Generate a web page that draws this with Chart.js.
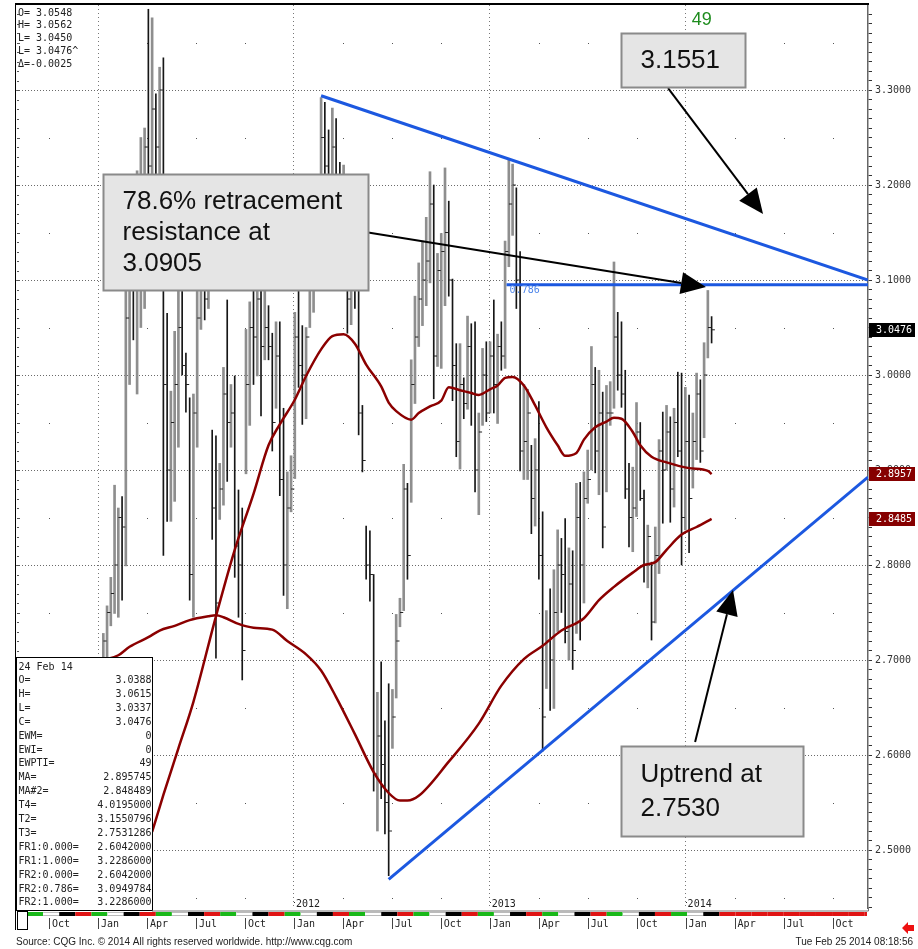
<!DOCTYPE html>
<html>
<head>
<meta charset="utf-8">
<title>Weekly bars with trend lines</title>
<script src="https://cdn.jsdelivr.net/npm/chart.js@4.4.1/dist/chart.umd.min.js"></script>
<style>
  html, body { margin: 0; padding: 0; background: #fff; }
  #wrap { position: relative; width: 918px; height: 949px; }
</style>
</head>
<body>
<div id="wrap"><canvas id="chart" width="918" height="949"></canvas></div>
<script>
/* -------------------------------------------------------
   DATA  (weekly bars, 10 Jan 2011 .. 24 Feb 2014)
------------------------------------------------------- */

const highs = [
  2.728, 2.757, 2.787, 2.884, 2.860, 2.872, 3.130, 3.170, 3.200, 3.215,
  3.250, 3.260, 3.385, 3.376, 3.296, 3.324, 3.334, 3.065, 2.983, 3.046,
  3.120, 3.150, 3.023, 2.976, 2.980, 3.130, 3.150, 3.170, 3.160, 2.942,
  2.936, 2.907, 3.008, 3.079, 2.990, 2.999, 2.879, 2.860, 3.048, 3.077,
  3.120, 3.120, 3.150, 3.130, 3.073, 3.044, 3.056, 3.056, 2.965, 2.898,
  2.915, 3.066, 3.120, 3.052, 3.050, 3.150, 3.170, 3.200, 3.292, 3.287,
  3.258, 3.281, 3.270, 3.224, 3.221, 3.200, 3.180, 3.150, 3.120, 2.968,
  2.841, 2.836, 2.790, 2.666, 2.698, 2.636, 2.675, 2.669, 2.748, 2.765,
  2.906, 2.886, 3.016, 3.083, 3.118, 3.141, 3.166, 3.214, 3.200, 3.128,
  3.149, 3.218, 3.183, 3.101, 3.033, 3.033, 2.997, 3.062, 3.054, 3.056,
  2.960, 3.028, 3.035, 3.035, 3.079, 3.043, 3.056, 3.141, 3.228, 3.222,
  3.197, 3.130, 2.990, 2.985, 2.926, 2.933, 2.972, 2.856, 2.752, 2.775,
  2.795, 2.837, 2.828, 2.849, 2.818, 2.815, 2.886, 2.887, 2.898, 2.921,
  3.030, 3.008, 3.005, 2.982, 2.989, 2.993, 3.119, 3.066, 3.056, 3.005,
  2.907, 2.903, 2.971, 2.950, 2.879, 2.842, 2.803, 2.840, 2.932, 2.961,
  2.968, 2.956, 2.965, 3.003, 3.002, 2.987, 2.979, 2.960, 3.002, 2.995,
  3.034, 3.089, 3.0615
];

const lows = [
  2.700, 2.700, 2.736, 2.749, 2.745, 2.763, 2.799, 2.990, 3.037, 2.980,
  3.050, 3.070, 3.150, 3.190, 3.170, 3.150, 2.810, 2.846, 2.846, 2.867,
  2.924, 3.000, 2.961, 2.763, 2.745, 2.924, 3.048, 3.058, 3.070, 2.827,
  2.702, 2.848, 2.863, 2.888, 2.924, 2.787, 2.745, 2.679, 2.896, 2.947,
  2.990, 2.999, 2.957, 3.016, 3.016, 2.920, 2.965, 2.873, 2.768, 2.754,
  2.856, 2.891, 2.987, 2.948, 2.954, 3.050, 3.066, 3.100, 3.150, 3.180,
  3.140, 3.160, 3.120, 3.100, 3.120, 3.044, 3.053, 3.070, 2.937, 2.898,
  2.785, 2.762, 2.562, 2.520, 2.554, 2.517, 2.473, 2.607, 2.660, 2.735,
  2.752, 2.785, 2.866, 2.970, 3.030, 3.052, 3.073, 3.097, 2.975, 3.009,
  3.007, 3.073, 3.083, 2.973, 2.914, 2.901, 2.954, 2.964, 2.947, 2.877,
  2.853, 2.947, 2.951, 2.960, 2.960, 2.949, 3.005, 3.007, 3.114, 3.147,
  3.070, 2.899, 2.890, 2.890, 2.833, 2.841, 2.785, 2.604, 2.670, 2.647,
  2.649, 2.730, 2.750, 2.718, 2.700, 2.690, 2.728, 2.721, 2.760, 2.865,
  2.900, 2.897, 2.874, 2.818, 2.877, 2.947, 2.965, 2.984, 2.966, 2.870,
  2.819, 2.814, 2.851, 2.868, 2.782, 2.776, 2.721, 2.739, 2.791, 2.844,
  2.900, 2.845, 2.861, 2.914, 2.800, 2.837, 2.813, 2.881, 2.911, 2.908,
  2.934, 3.018, 3.0337
];

const closes = [
  2.72, 2.75, 2.77, 2.80, 2.85, 2.84, 3.06, 3.10, 3.09, 3.18,
  3.20, 3.24, 3.22, 3.28, 3.24, 3.30, 2.99, 2.90, 2.95, 2.99,
  3.05, 3.01, 2.99, 2.79, 2.96, 3.06, 3.11, 3.08, 3.10, 2.86,
  2.76, 2.88, 2.98, 2.95, 2.96, 2.82, 2.80, 2.71, 2.99, 3.05,
  3.04, 3.08, 3.03, 3.05, 3.03, 2.95, 3.02, 2.89, 2.80, 2.86,
  2.88, 3.04, 3.01, 3.00, 3.04, 3.12, 3.15, 3.17, 3.25, 3.22,
  3.21, 3.24, 3.17, 3.15, 3.18, 3.08, 3.12, 3.10, 2.96, 2.91,
  2.80, 2.79, 2.58, 2.62, 2.59, 2.55, 2.52, 2.64, 2.72, 2.75,
  2.88, 2.81, 2.99, 3.04, 3.08, 3.10, 3.12, 3.18, 3.02, 3.11,
  3.13, 3.15, 3.10, 3.01, 2.93, 2.99, 2.97, 3.03, 2.98, 2.90,
  2.94, 3.00, 2.96, 3.02, 2.99, 3.03, 3.02, 3.13, 3.18, 3.20,
  3.10, 2.92, 2.93, 2.96, 2.87, 2.90, 2.81, 2.64, 2.72, 2.70,
  2.75, 2.80, 2.79, 2.73, 2.78, 2.71, 2.85, 2.80, 2.87, 2.89,
  2.99, 2.92, 2.96, 2.84, 2.96, 2.96, 3.04, 3.00, 2.98, 2.88,
  2.85, 2.86, 2.94, 2.87, 2.80, 2.83, 2.74, 2.81, 2.92, 2.90,
  2.94, 2.88, 2.95, 2.92, 2.85, 2.93, 2.87, 2.93, 2.98, 2.92,
  3.00, 3.05, 3.0476
];

// moving averages, read every few weeks (bar index -> value)
const maWeeks = [13, 16, 20, 24, 30, 35, 40, 44, 47, 51, 54, 58, 61, 64, 67, 70, 74, 76, 78, 82,
  84, 87, 90, 92, 95, 98, 100, 103, 105, 107, 109, 112, 115, 118, 121, 123, 126, 128, 131, 134,
  136, 138, 141, 143, 146, 150, 156, 161, 162];
const maValues = [2.519, 2.558, 2.607, 2.656, 2.746, 2.816, 2.875, 2.926, 2.948, 2.974,
  2.999, 3.027, 3.041, 3.043, 3.033, 3.011, 2.988, 2.971, 2.962, 2.953,
  2.960, 2.967, 2.973, 2.987, 2.984, 2.981, 2.979, 2.985, 2.989, 2.997,
  2.998, 2.989, 2.968, 2.945, 2.926, 2.915, 2.918, 2.932, 2.945, 2.951,
  2.955, 2.954, 2.940, 2.926, 2.914, 2.908, 2.902, 2.899, 2.8957];

const ma2Weeks = [0, 4, 7, 12, 15, 19, 23, 28, 30, 32, 36, 40, 45, 49, 54, 58, 62, 67, 72, 76,
  79, 81, 84, 92, 100, 106, 112, 117, 122, 128, 132, 136, 141, 144, 147, 150, 154, 158, 162];
const ma2Values = [2.700, 2.705, 2.714, 2.724, 2.731, 2.736, 2.742, 2.746, 2.747, 2.745,
  2.738, 2.734, 2.732, 2.720, 2.706, 2.689, 2.661, 2.622, 2.582, 2.560,
  2.552, 2.552, 2.557, 2.593, 2.633, 2.673, 2.701, 2.715, 2.731, 2.744,
  2.763, 2.777, 2.792, 2.800, 2.803, 2.816, 2.832, 2.840, 2.8485];

// trend lines: [start, end] in bar index / price
const downTrendX = [58, 203.65];
const downTrendY = [3.294, 3.100];
const fibX = [107.4, 203.65];
const fibY = [3.0950, 3.0950];
const upTrendX = [76, 203.65];
const upTrendY = [2.469, 2.8926];

// axis labels
const quarterNames = ["Jan", "Apr", "Jul", "Oct"];
const yearNames = ["2011", "2012", "2013", "2014"];

const lastClose = 3.0476;
const lastMa = 2.8957;
const lastMa2 = 2.8485;

const readout = ["O= 3.0548", "H= 3.0562", "L= 3.0450", "L= 3.0476^", "\u0394=-0.0025"];
const infoLabels = ["O=", "H=", "L=", "C=", "EWM=", "EWI=", "EWPTI=", "MA=", "MA#2=", "T4=", "T2=", "T3=",
  "FR1:0.000=", "FR1:1.000=", "FR2:0.000=", "FR2:0.786=", "FR2:1.000="];
const infoValues = ["3.0388", "3.0615", "3.0337", "3.0476", "0", "0", "49", "2.895745", "2.848489",
  "4.0195000", "3.1550796", "2.7531286", "2.6042000", "3.2286000", "2.6042000", "3.0949784", "3.2286000"];

/* -------------------------------------------------------
   helpers
------------------------------------------------------- */

// quarter ticks in bar-index units (Jan 2011 sits 1.4 weeks before the first bar)
const quarterTicks = [];
for (let q = -1; q <= 15; q++) quarterTicks.push(-1.4 + 13.04 * q);
const quarterOf = (v) => Math.round((v + 1.4) / 13.04);
const isJan = (v) => ((quarterOf(v) % 4) + 4) % 4 === 0;
const isTenth = (v) => Math.abs(v * 10 - Math.round(v * 10)) < 1e-6;

const upBars = [];
const downBars = [];
const closeTicks = [];
highs.forEach((h, k) => {
  const prev = k ? closes[k - 1] : closes[0];
  const bar = { x: k, y: [lows[k], h] };
  if (closes[k] >= prev) upBars.push(bar);
  else downBars.push(bar);
  closeTicks.push({ x: k + 0.45, y: closes[k] });
});

const pts = (xs, ys) => xs.map((v, k) => ({ x: v, y: ys[k] }));

const MONO = "'DejaVu Sans Mono', monospace";
const SANS = "'Liberation Sans', Arial, sans-serif";

/* -------------------------------------------------------
   annotations + chrome drawn through the scales
------------------------------------------------------- */

const notes = [
  { x0: 137.8, x1: 170.9, y0: 3.360, y1: 3.3032, lines: ["3.1551"], lh: 31 },
  { x0: 0, x1: 70.5, y0: 3.2116, y1: 3.0895, lines: ["78.6% retracement", "resistance at", "3.0905"], lh: 31 },
  { x0: 137.8, x1: 186.4, y0: 2.6095, y1: 2.5147, lines: ["Uptrend at", "2.7530"], lh: 34 }
];
const arrows = [
  { from: [150.4, 3.3021], to: [175.7, 3.1695] },
  { from: [69.7, 3.1505], to: [160.5, 3.0926] },
  { from: [157.6, 2.6137], to: [167.7, 2.7737] }
];

function drawArrow(ctx, x0, y0, x1, y1) {
  const ang = Math.atan2(y1 - y0, x1 - x0);
  const len = 25, half = 11;
  const bx = x1 - Math.cos(ang) * len;
  const by = y1 - Math.sin(ang) * len;
  ctx.beginPath();
  ctx.moveTo(x0, y0);
  ctx.lineTo(bx, by);
  ctx.stroke();
  ctx.beginPath();
  ctx.moveTo(x1, y1);
  ctx.lineTo(bx + Math.sin(ang) * half, by - Math.cos(ang) * half);
  ctx.lineTo(bx - Math.sin(ang) * half, by + Math.cos(ang) * half);
  ctx.closePath();
  ctx.fill();
}

const chrome = {
  id: "chrome",
  beforeDatasetsDraw(chart) {
    const { ctx, chartArea: a, scales: { x, y } } = chart;
    ctx.save();
    ctx.fillStyle = "#555";
    // dotted marks on the non-year quarter lines, at the .x5 levels
    quarterTicks.forEach((q) => {
      if (isJan(q)) return;
      const xp = Math.round(x.getPixelForValue(q));
      if (xp < a.left || xp > a.right) return;
      for (let lv = 245; lv <= 335; lv += 10) {
        const yp = Math.round(y.getPixelForValue(lv / 100));
        ctx.fillRect(xp, yp, 1, 1);
      }
    });
    // small price ticks down the left edge
    for (let lv = 244; lv <= 338; lv++) {
      const yp = Math.round(y.getPixelForValue(lv / 100));
      ctx.fillRect(a.left + 1, yp, lv % 5 === 0 ? 3 : 2, 1);
    }
    ctx.restore();
  },
  afterDraw(chart) {
    const { ctx, chartArea: a, scales: { x, y } } = chart;
    const px = (v) => x.getPixelForValue(v);
    const py = (v) => y.getPixelForValue(v);
    ctx.save();

    // 0.786 label and the wave count
    ctx.font = "10px " + MONO;
    ctx.fillStyle = "#4f86ea";
    ctx.textBaseline = "top";
    ctx.textAlign = "left";
    ctx.fillText("0.786", px(fibX[0]) + 3, py(fibY[0]) + 1);

    ctx.font = "18px " + SANS;
    ctx.fillStyle = "#1e8c1e";
    ctx.textAlign = "center";
    ctx.textBaseline = "middle";
    ctx.fillText("49", px(159.4), py(3.3737));

    // arrows, then the boxes on top of their tails
    ctx.strokeStyle = "#000";
    ctx.fillStyle = "#000";
    ctx.lineWidth = 2;
    arrows.forEach((ar) => drawArrow(ctx, px(ar.from[0]), py(ar.from[1]), px(ar.to[0]), py(ar.to[1])));

    notes.forEach((n) => {
      const l = Math.round(px(n.x0)) + 0.5, r = Math.round(px(n.x1)) + 0.5;
      const t = Math.round(py(n.y0)) + 0.5, b = Math.round(py(n.y1)) + 0.5;
      ctx.fillStyle = "#e5e5e5";
      ctx.fillRect(l, t, r - l, b - t);
      ctx.strokeStyle = "#8a8a8a";
      ctx.lineWidth = 2;
      ctx.strokeRect(l, t, r - l, b - t);
      ctx.fillStyle = "#111";
      ctx.font = "26px " + SANS;
      ctx.textAlign = "left";
      ctx.textBaseline = "middle";
      const mid = (t + b) / 2;
      n.lines.forEach((s, k) => {
        ctx.fillText(s, l + 19, mid + (k - (n.lines.length - 1) / 2) * n.lh);
      });
    });

    // last value tags on the price axis
    ctx.font = "10px " + MONO;
    ctx.textAlign = "left";
    ctx.textBaseline = "middle";
    [[lastClose, "#000000"], [lastMa, "#860000"], [lastMa2, "#860000"]].forEach(([v, bg]) => {
      const yp = Math.round(py(v));
      ctx.fillStyle = bg;
      ctx.fillRect(a.right + 1, yp - 7, 46, 14);
      ctx.fillStyle = "#fff";
      ctx.fillText(v.toFixed(4), a.right + 8, yp + 0.5);
    });

    // top-left readout
    ctx.fillStyle = "#222";
    readout.forEach((s, k) => ctx.fillText(s, a.left + 2, a.top + 8 + k * 12.8));

    // info box bottom-left
    const bl = a.left + 0.5, br = 152.5, bt = 657.5, bb = 910.5;
    ctx.fillStyle = "#fff";
    ctx.fillRect(bl, bt, br - bl, bb - bt);
    ctx.strokeStyle = "#000";
    ctx.lineWidth = 1;
    ctx.strokeRect(bl, bt, br - bl, bb - bt);
    ctx.fillStyle = "#222";
    ctx.textAlign = "left";
    ctx.fillText("24 Feb 14", bl + 2, bt + 9.5);
    infoLabels.forEach((s, k) => {
      const yy = bt + 23 + k * 13.9;
      ctx.textAlign = "left";
      ctx.fillText(s, bl + 2, yy);
      ctx.textAlign = "right";
      ctx.fillText(infoValues[k], br - 1, yy);
    });

    // frame
    ctx.strokeStyle = "#000";
    ctx.lineWidth = 2;
    ctx.beginPath();
    ctx.moveTo(a.left - 1, a.top - 1);
    ctx.lineTo(a.right + 1, a.top - 1);
    ctx.stroke();
    ctx.lineWidth = 1;
    ctx.beginPath();
    ctx.moveTo(a.left - 0.5, a.top - 1);
    ctx.lineTo(a.left - 0.5, 930);
    ctx.stroke();
    ctx.strokeStyle = "#777";
    ctx.beginPath();
    ctx.moveTo(a.right + 0.5, a.bottom);
    ctx.lineTo(a.right + 0.5, 911);
    ctx.lineTo(152, 911);
    ctx.stroke();

    // year labels inside the bottom of the plot
    ctx.fillStyle = "#222";
    ctx.textAlign = "left";
    ctx.textBaseline = "alphabetic";
    quarterTicks.forEach((q) => {
      if (!isJan(q)) return;
      const xp = px(q);
      if (xp < 160 || xp > a.right) return;
      const yr = yearNames[Math.round(quarterOf(q) / 4)];
      ctx.fillRect(Math.round(xp), a.bottom - 6, 1, 1);
      ctx.fillText(yr, xp + 2, a.bottom - 1);
    });

    // month strip under the plot
    const stripY = 912;
    const segW = 4.288;
    const stripColors = ["#19b819", "#ffffff", "#000000", "#e01414"];
    let k = 0;
    for (let s = -20.32; s < x.max; s += segW, k++) {
      const x0 = px(s), x1 = Math.min(px(s + segW), a.right - 1);
      if (x1 <= x0) break;
      const c = s >= 166.5 ? "#e01414" : stripColors[k % 4];
      ctx.fillStyle = c;
      ctx.fillRect(x0, stripY, x1 - x0, 4);
      if (c === "#ffffff") {
        ctx.fillStyle = "#bbb";
        ctx.fillRect(x0, stripY, x1 - x0, 1);
        ctx.fillRect(x0, stripY + 3, x1 - x0, 1);
      }
    }
    ctx.fillStyle = "#fff";
    ctx.fillRect(a.left + 1, 911, 10, 19);
    ctx.strokeStyle = "#000";
    ctx.strokeRect(a.left + 1.5, 911.5, 10, 18);

    // quarter tick marks in the label row
    ctx.strokeStyle = "#444";
    quarterTicks.forEach((q) => {
      const xp = Math.round(px(q)) + 0.5;
      if (xp < a.left || xp > a.right) return;
      ctx.beginPath();
      ctx.moveTo(xp, 918);
      ctx.lineTo(xp, 929);
      ctx.stroke();
    });

    // footer
    ctx.font = "10px " + SANS;
    ctx.fillStyle = "#222";
    ctx.textBaseline = "alphabetic";
    ctx.textAlign = "left";
    ctx.fillText("Source: CQG Inc. \u00a9 2014 All rights reserved worldwide. http://www.cqg.com", 16, 945);
    ctx.textAlign = "right";
    ctx.fillText("Tue Feb 25 2014 08:18:56", 913, 945);

    // red scroll arrow
    ctx.fillStyle = "#ee1111";
    ctx.beginPath();
    ctx.moveTo(902, 928);
    ctx.lineTo(908, 922);
    ctx.lineTo(908, 925);
    ctx.lineTo(914, 925);
    ctx.lineTo(914, 931);
    ctx.lineTo(908, 931);
    ctx.lineTo(908, 934);
    ctx.closePath();
    ctx.fill();

    ctx.restore();
  }
};

/* -------------------------------------------------------
   CHART
------------------------------------------------------- */

new Chart(document.getElementById("chart"), {
  type: "bar",
  data: {
    datasets: [
      { type: "line", label: "Down trend", data: pts(downTrendX, downTrendY),
        borderColor: "#1c58e0", borderWidth: 3, pointRadius: 0, order: 0 },
      { type: "line", label: "0.786", data: pts(fibX, fibY),
        borderColor: "#1c58e0", borderWidth: 3, pointRadius: 0, order: 0 },
      { type: "line", label: "Up trend", data: pts(upTrendX, upTrendY),
        borderColor: "#1c58e0", borderWidth: 3, pointRadius: 0, order: 0 },
      { type: "line", label: "MA", data: pts(maWeeks, maValues),
        borderColor: "#8b0000", borderWidth: 2.5, pointRadius: 0,
        cubicInterpolationMode: "monotone", order: 1 },
      { type: "line", label: "MA#2", data: pts(ma2Weeks, ma2Values),
        borderColor: "#8b0000", borderWidth: 2.5, pointRadius: 0,
        cubicInterpolationMode: "monotone", order: 1 },
      { type: "line", label: "Close", data: closeTicks, showLine: false,
        pointStyle: "line", pointRadius: 1.6, pointBorderWidth: 1,
        borderColor: "#222", pointBorderColor: "#222", order: 2 },
      { type: "bar", label: "Up", data: upBars, backgroundColor: "#8e8e8e",
        barThickness: 2, grouped: false, order: 3 },
      { type: "bar", label: "Down", data: downBars, backgroundColor: "#161616",
        barThickness: 1, grouped: false, order: 3 }
    ]
  },
  plugins: [chrome],
  options: {
    responsive: false,
    animation: false,
    devicePixelRatio: 1,
    layout: { padding: { left: 16, top: 5, right: 0, bottom: 0 } },
    plugins: {
      legend: { display: false },
      tooltip: { enabled: false }
    },
    scales: {
      x: {
        type: "linear",
        position: "bottom",
        min: -23.25,
        max: 203.65,
        offset: false,
        afterBuildTicks: (s) => { s.ticks = quarterTicks.map((v) => ({ value: v })); },
        afterFit: (s) => { s.height = 41; s.paddingLeft = 0; s.paddingRight = 0; },
        grid: {
          offset: false,
          color: (c) => (c.tick && isJan(c.tick.value) ? "#777" : "rgba(0,0,0,0)"),
          drawTicks: false,
          lineWidth: 1
        },
        border: { display: false, dash: [1, 3] },
        ticks: {
          callback: (v) => quarterNames[((quarterOf(v) % 4) + 4) % 4],
          align: "start",
          labelOffset: 3,
          padding: 10,
          autoSkip: false,
          maxRotation: 0,
          color: "#222",
          font: { family: "DejaVu Sans Mono", size: 10 }
        }
      },
      y: {
        type: "linear",
        position: "right",
        min: 2.43895,
        max: 3.3895,
        afterBuildTicks: (s) => {
          const t = [];
          for (let k = 244; k <= 338; k++) t.push({ value: k / 100 });
          s.ticks = t;
        },
        afterFit: (s) => { s.width = 50; s.paddingTop = 0; s.paddingBottom = 0; },
        grid: {
          color: (c) => (c.tick && isTenth(c.tick.value) ? "#6a6a6a" : "rgba(0,0,0,0)"),
          tickColor: "#333",
          tickLength: 4,
          lineWidth: 1
        },
        border: { display: true, color: "#666", width: 1.5, dash: [1, 2] },
        ticks: {
          callback: (v) => (isTenth(v) ? v.toFixed(4) : ""),
          autoSkip: false,
          padding: 3,
          color: "#333",
          font: { family: "DejaVu Sans Mono", size: 10 }
        }
      }
    }
  }
});
</script>
</body>
</html>
